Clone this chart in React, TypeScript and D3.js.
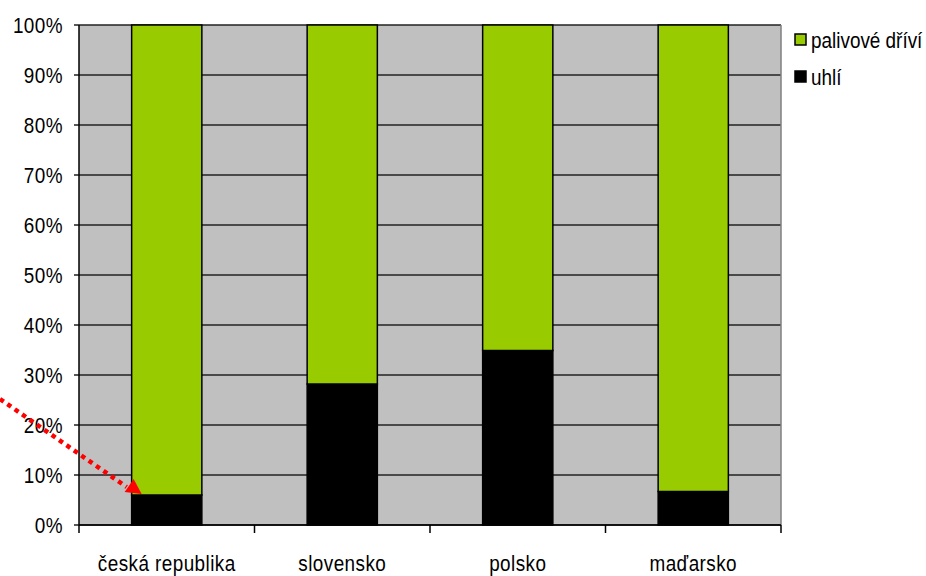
import React from "react";
import * as d3 from "d3";

const categories = ["česká republika", "slovensko", "polsko", "maďarsko"];
const uhli = [6, 28.2, 34.9, 6.7];
const drivi = [94, 71.8, 65.1, 93.3];
const seriesNames = ["palivové dříví", "uhlí"];
const yTicks = [0, 10, 20, 30, 40, 50, 60, 70, 80, 90, 100];

const W = 926;
const H = 576;
const plot = { left: 79, top: 25, right: 781, bottom: 525 };
const GREEN = "#99CC00";
const FONT = "'Liberation Sans', Arial, sans-serif";
const FS = 22;
const SX = 0.86;

function Label(props: {
  x: number;
  y: number;
  anchor?: "start" | "middle" | "end";
  dy?: string;
  spacing?: number;
  children: React.ReactNode;
}) {
  return (
    <text
      transform={`translate(${props.x},${props.y}) scale(${SX},1)`}
      dy={props.dy}
      textAnchor={props.anchor || "start"}
      fontFamily={FONT}
      fontSize={FS}
      letterSpacing={props.spacing ?? 0.5}
      fill="#000"
    >
      {props.children}
    </text>
  );
}

export default function App() {
  const x = d3
    .scaleBand<string>()
    .domain(categories)
    .range([plot.left, plot.right])
    .paddingInner(0.6)
    .paddingOuter(0.3);
  const band = d3.scaleBand<string>().domain(categories).range([plot.left, plot.right]);
  const y = d3.scaleLinear().domain([0, 100]).range([plot.bottom, plot.top]);

  const rows = categories.map((c, i) => ({ c, uhli: uhli[i], drivi: drivi[i] }));
  const stack = d3.stack<any>().keys(["uhli", "drivi"])(rows);

  // annotation arrow pointing at the Czech coal share
  const c0 = categories[0];
  const tipX = (x(c0) as number) + 1;
  const tipY = y(uhli[0]) - 4;

  return (
    <svg width={W} height={H} style={{ position: "absolute", left: 0, top: 0 }}>
      <rect x={0} y={0} width={W} height={H} fill="#fff" />
      <rect
        x={plot.left}
        y={plot.top}
        width={plot.right - plot.left}
        height={plot.bottom - plot.top}
        fill="#C0C0C0"
      />
      {yTicks.map((t) => (
        <g key={t}>
          <line
            x1={plot.left - 5}
            x2={plot.right}
            y1={y(t)}
            y2={y(t)}
            stroke="#222"
            strokeWidth={1.5}
          />
          <Label x={plot.left - 16} y={y(t)} dy="0.36em" anchor="end">
            {t}%
          </Label>
        </g>
      ))}
      <line x1={plot.right} x2={plot.right} y1={plot.top} y2={plot.bottom} stroke="#808080" strokeWidth={1.5} />
      <line x1={plot.left} x2={plot.left} y1={plot.top} y2={plot.bottom} stroke="#000" strokeWidth={1.5} />
      {stack.map((s, si) =>
        s.map((d, i) => (
          <rect
            key={si + "-" + i}
            x={x(categories[i])}
            width={x.bandwidth()}
            y={y(d[1])}
            height={y(d[0]) - y(d[1])}
            fill={si === 0 ? "#000" : GREEN}
            stroke="#000"
            strokeWidth={1.5}
          />
        ))
      )}
      <line x1={plot.left} x2={plot.right} y1={plot.bottom} y2={plot.bottom} stroke="#000" strokeWidth={1.5} />
      {[...categories.map((c) => band(c) as number), plot.right].map((v, i) => (
        <line key={i} x1={v} x2={v} y1={plot.bottom} y2={plot.bottom + 8} stroke="#000" strokeWidth={1.5} />
      ))}
      {categories.map((c) => (
        <Label key={c} x={(band(c) as number) + band.bandwidth() / 2} y={571} anchor="middle">
          {c}
        </Label>
      ))}
      {/* legend */}
      {seriesNames.map((n, i) => (
        <g key={n}>
          <rect
            x={795}
            y={34 + i * 37}
            width={11}
            height={11}
            fill={i === 0 ? GREEN : "#000"}
            stroke="#000"
            strokeWidth={1.5}
          />
          <Label x={811} y={40 + i * 37} dy="0.36em" spacing={0}>
            {n}
          </Label>
        </g>
      ))}
      {/* red dotted arrow */}
      <line
        x1={0}
        y1={tipY - 92}
        x2={tipX - 6}
        y2={tipY - 4}
        stroke="#FF0000"
        strokeWidth={4.5}
        strokeDasharray="4.5 4.5"
      />
      <polygon
        points={`${tipX + 1},${tipY - 12} ${tipX - 8},${tipY + 1} ${tipX + 9},${tipY + 3}`}
        fill="#FF0000"
      />
    </svg>
  );
}
